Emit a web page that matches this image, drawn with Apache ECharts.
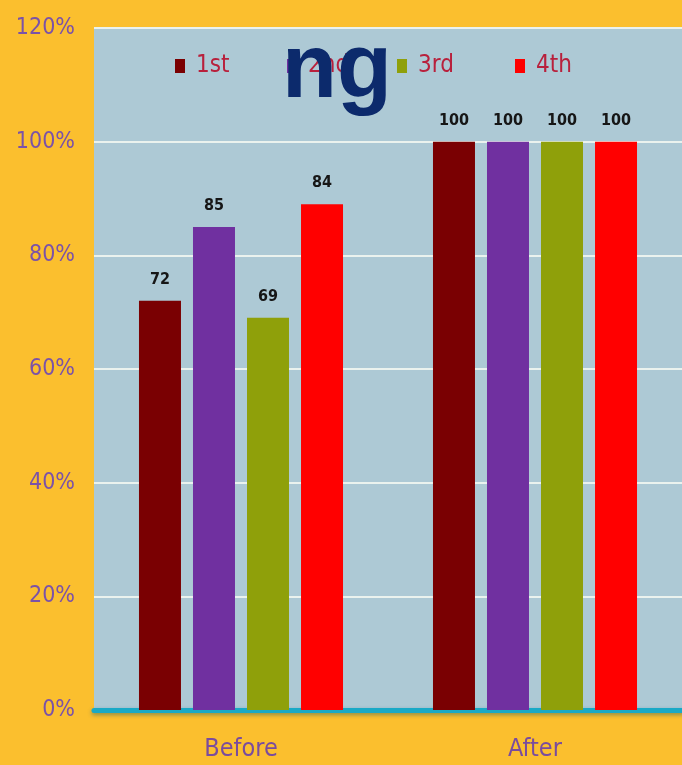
<!DOCTYPE html>
<html><head><meta charset="utf-8">
<script src="https://cdn.jsdelivr.net/npm/echarts@6/dist/echarts.min.js"></script>
<style>html,body{margin:0;padding:0;background:#fbbf2e;}#c{width:682px;height:765px;}</style>
</head><body><div id="c"></div>
<script>
const categories = ['Before', 'After'];
const seriesNames = ['1st', '2nd', '3rd', '4th'];
const s1st = [72, 100];
const s2nd = [85, 100];
const s3rd = [69, 100];
const s4th = [89, 100];
const labels1st = ['72', '100'];
const labels2nd = ['85', '100'];
const labels3rd = ['69', '100'];
const labels4th = ['84', '100'];
const yTicks = [0, 20, 40, 60, 80, 100, 120];

const colors = ['#7a0002', '#7030a0', '#8fa00a', '#ff0000'];
const values = [s1st, s2nd, s3rd, s4th];
const lbls = [labels1st, labels2nd, labels3rd, labels4th];
const legendLeft = [170, 282, 392, 510];
const narrow = "'DejaVu Sans Condensed', 'Liberation Sans Narrow', 'DejaVu Sans', sans-serif";

const chart = echarts.init(document.getElementById('c'));
chart.setOption({
  backgroundColor: '#fbbf2e',
  animation: false,
  title: {
    text: 'ng', left: 277, top: 22, z: 20,
    textStyle: { fontSize: 90, fontWeight: 'bold', color: '#0c2a6c', fontFamily: 'Liberation Sans' }
  },
  legend: seriesNames.map((n, i) => ({
    data: [n], left: legendLeft[i], top: 49,
    itemWidth: 10, itemHeight: 14, itemGap: 6,
    icon: 'rect',
    textStyle: { color: '#b8203c', fontSize: 24, fontFamily: narrow, padding: [0, 0, 0, 6] }
  })),
  grid: {
    left: 94, right: -4, top: 28, bottom: 55, show: true,
    backgroundColor: '#adc9d5', borderWidth: 0
  },
  xAxis: {
    type: 'category', data: categories,
    axisLine: { show: true, lineStyle: { color: '#19a9c6', width: 5, shadowColor: 'rgba(0,80,110,0.45)', shadowBlur: 4, shadowOffsetY: 2 } },
    axisTick: { show: false },
    axisLabel: { color: '#7a4c9e', fontSize: 25, fontFamily: narrow, margin: 27 }
  },
  yAxis: {
    type: 'value', min: 0, max: 120, interval: 20,
    axisLine: { show: false }, axisTick: { show: false },
    splitLine: { lineStyle: { color: '#eaf2ee', width: 2 } },
    axisLabel: { color: '#7b52a8', fontSize: 23, fontFamily: narrow, margin: 19,
      formatter: v => yTicks.includes(v) ? v + '%' : '' }
  },
  series: seriesNames.map((n, i) => ({
    name: n, type: 'bar', data: values[i], barWidth: 42, barGap: '28.6%',
    itemStyle: { color: colors[i] },
    label: {
      show: true, position: 'top', distance: 13,
      color: '#161616', fontSize: 16, fontWeight: 'bold', fontFamily: narrow,
      formatter: p => lbls[i][p.dataIndex]
    }
  }))
});
</script></body></html>
